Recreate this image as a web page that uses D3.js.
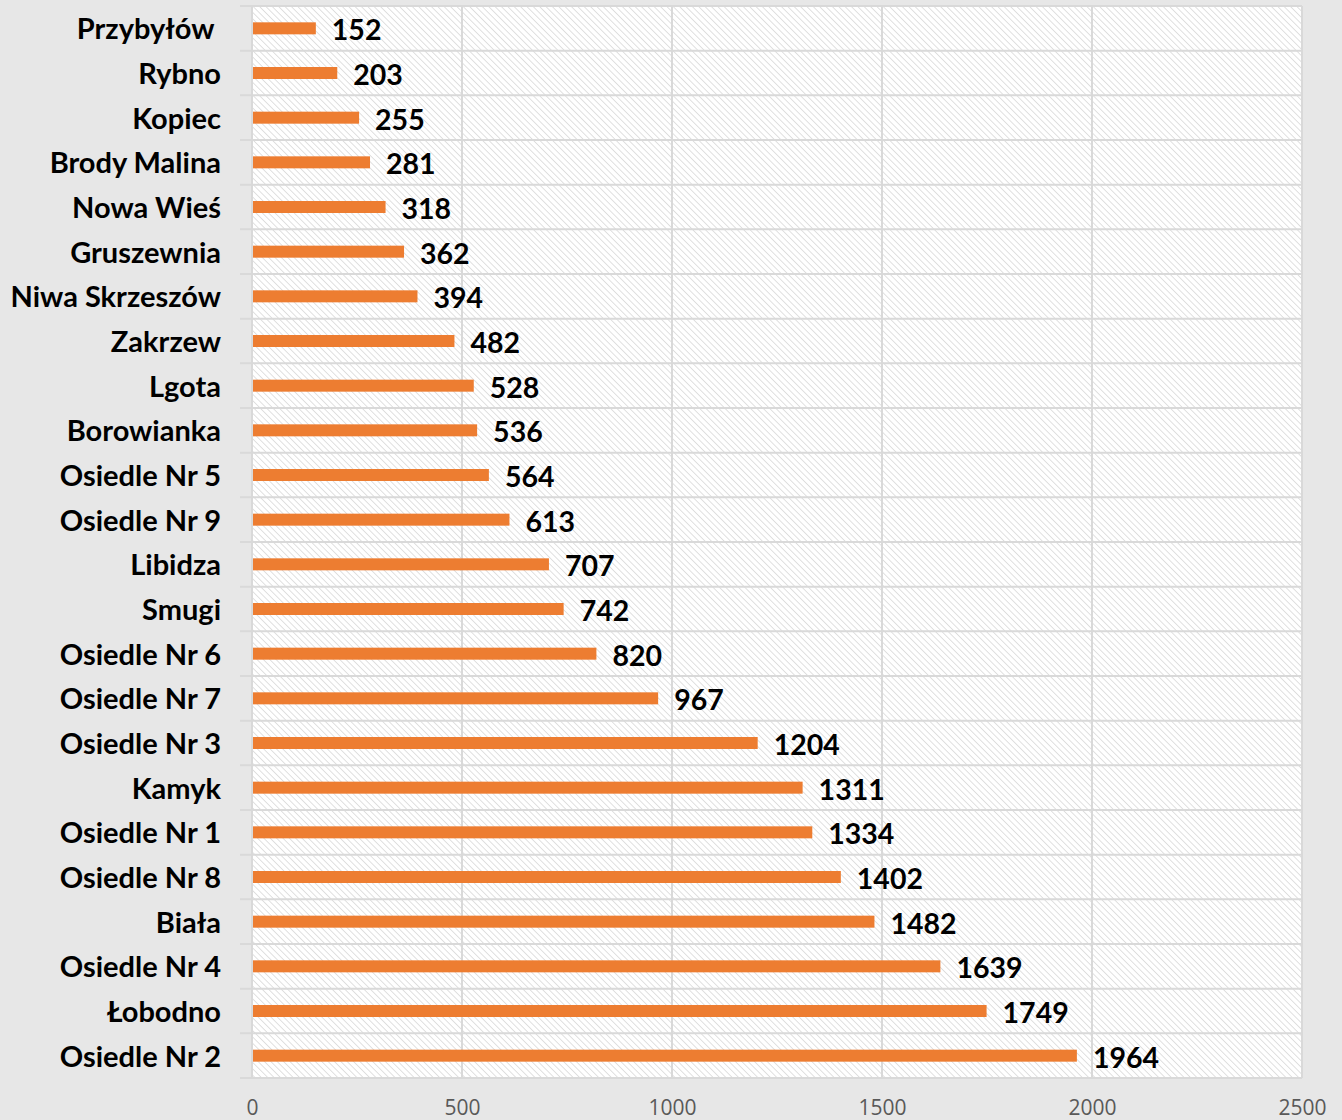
<!DOCTYPE html>
<html>
<head>
<meta charset="utf-8">
<script src="https://cdn.jsdelivr.net/npm/d3@7"></script>
<style>
  body { margin: 0; background: #e7e7e7; }
  .cat text { font-family: Lato, "Open Sans", sans-serif; font-weight: bold; font-size: 29px; fill: #000; white-space: pre; }
  .x.axis text { font-family: "Open Sans", sans-serif; font-size: 21px; fill: #595959; }
  .x.axis path, .x.axis line { display: none; }
  .val { font-family: Lato, "Open Sans", sans-serif; font-weight: bold; font-size: 28.5px; fill: #000; }
</style>
</head>
<body>
<div id="bar-chart"></div>
<script>
var categories = ["Przybyłów ", "Rybno", "Kopiec", "Brody Malina", "Nowa Wieś", "Gruszewnia",
  "Niwa Skrzeszów", "Zakrzew", "Lgota", "Borowianka", "Osiedle Nr 5", "Osiedle Nr 9",
  "Libidza", "Smugi", "Osiedle Nr 6", "Osiedle Nr 7", "Osiedle Nr 3", "Kamyk",
  "Osiedle Nr 1", "Osiedle Nr 8", "Biała", "Osiedle Nr 4", "Łobodno", "Osiedle Nr 2"];
var values = [152, 203, 255, 281, 318, 362, 394, 482, 528, 536, 564, 613, 707, 742,
  820, 967, 1204, 1311, 1334, 1402, 1482, 1639, 1749, 1964];
var xTicks = [0, 500, 1000, 1500, 2000, 2500];

var margin = { top: 6, right: 40, bottom: 42, left: 252 },
  width = 1342 - margin.left - margin.right,
  height = 1120 - margin.top - margin.bottom;

var svg = d3.select("#bar-chart").append("svg")
  .attr("width", width + margin.left + margin.right)
  .attr("height", height + margin.top + margin.bottom)
  .style("display", "block");

// hatch pattern for plot area
var defs = svg.append("defs");
var pat = defs.append("pattern")
  .attr("id", "hatch")
  .attr("patternUnits", "userSpaceOnUse")
  .attr("width", 4.5).attr("height", 4.5)
  .attr("patternTransform", "rotate(-45)");
pat.append("rect").attr("width", 4.5).attr("height", 4.5).attr("fill", "#ffffff");
pat.append("line")
  .attr("x1", 0).attr("y1", 0).attr("x2", 0).attr("y2", 4.5)
  .attr("stroke", "#d9d9d9").attr("stroke-width", 1.6);

var g = svg.append("g")
  .attr("transform", "translate(" + margin.left + "," + margin.top + ")");

var x = d3.scaleLinear().domain([0, 2500]).range([0, width]);
var y = d3.scaleBand().domain(categories).range([0, height]);

g.append("rect")
  .attr("width", width).attr("height", height)
  .attr("fill", "url(#hatch)");

// vertical gridlines
g.selectAll(".vgrid").data(xTicks).enter().append("line")
  .attr("class", "vgrid")
  .attr("x1", function (d) { return x(d); })
  .attr("x2", function (d) { return x(d); })
  .attr("y1", 0).attr("y2", height)
  .attr("stroke", "#d9d9d9").attr("stroke-width", 2);

// horizontal category separators (with little ticks to the left)
var seps = categories.map(function (c) { return y(c); }).concat([height]);
g.selectAll(".hgrid").data(seps).enter().append("line")
  .attr("class", "hgrid")
  .attr("x1", -12).attr("x2", width)
  .attr("y1", function (d) { return d; })
  .attr("y2", function (d) { return d; })
  .attr("stroke", "#d9d9d9").attr("stroke-width", 2);

var barH = 12;
g.selectAll(".bar").data(values).enter().append("rect")
  .attr("class", "bar")
  .attr("x", x(0) + 1)
  .attr("y", function (d, i) { return y(categories[i]) + y.bandwidth() / 2 - barH / 2; })
  .attr("width", function (d) { return x(d) - x(0) - 1; })
  .attr("height", barH)
  .attr("fill", "#ed7d31");

g.selectAll(".val").data(values).enter().append("text")
  .attr("class", "val")
  .attr("x", function (d) { return x(d) + 16; })
  .attr("y", function (d, i) { return y(categories[i]) + y.bandwidth() / 2; })
  .attr("dy", "0.42em")
  .text(function (d) { return d; });

// category labels
var cat = g.append("g").attr("class", "cat");
cat.selectAll("text").data(categories).enter().append("text")
  .attr("x", -31)
  .attr("y", function (d) { return y(d) + y.bandwidth() / 2; })
  .attr("dy", "0.38em")
  .attr("text-anchor", "end")
  .text(function (d) { return d; });

var xAxis = d3.axisBottom(x).tickValues(xTicks).tickSize(0).tickPadding(22)
  .tickFormat(d3.format("d"));
g.append("g")
  .attr("class", "x axis")
  .attr("transform", "translate(0," + height + ")")
  .call(xAxis);
</script>
</body>
</html>
